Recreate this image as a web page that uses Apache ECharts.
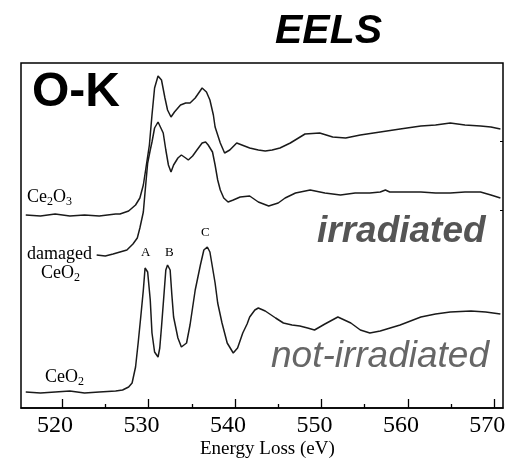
<!DOCTYPE html>
<html>
<head>
<meta charset="utf-8">
<script src="https://cdn.jsdelivr.net/npm/echarts@6/dist/echarts.min.js"></script>
<style>
  html, body { margin: 0; padding: 0; background: #fff; }
  #chart { width: 519px; height: 461px; }
</style>
</head>
<body>
<div id="chart"></div>
<script>
// energy loss (eV) and intensity (arbitrary, offset per spectrum)
var ce2o3E = [515.8, 517.5, 519.2, 520.9, 522.6, 524.3, 526.2, 526.7, 527.7, 528.5, 529.0, 529.4, 529.7, 530.1, 530.4, 530.7, 531.1, 531.3, 531.5, 531.9, 532.2, 532.6, 533.0, 533.7, 534.3, 534.8, 535.4, 536.2, 536.7, 537.1, 537.5, 537.7, 538.3, 538.8, 539.4, 540.2, 541.1, 541.7, 542.7, 543.5, 544.3, 545.2, 546.4, 548.1, 549.8, 551.3, 552.8, 554.5, 556.8, 559.1, 561.5, 563.2, 564.9, 566.6, 568.4, 569.6, 570.7]
var ce2o3I = [193, 192, 194, 192, 193, 192, 194, 194, 197, 203, 210, 223, 240, 263, 293, 320, 332, 333, 328, 310, 298, 291, 296, 303, 305, 305, 310, 320, 316, 308, 293, 281, 265, 255, 258, 265, 262, 260, 258, 257, 258, 260, 265, 274, 275, 271, 270, 273, 276, 279, 282, 283, 285, 283, 282, 281, 279]

var damagedE = [524.0, 525.0, 525.9, 526.7, 527.5, 528.2, 528.7, 529.0, 529.4, 529.6, 529.9, 530.2, 530.4, 530.7, 531.1, 531.3, 531.7, 532.0, 532.3, 532.6, 532.9, 533.4, 533.8, 534.3, 534.6, 535.1, 535.6, 536.2, 536.6, 536.9, 537.4, 537.7, 538.0, 538.3, 538.7, 539.2, 539.8, 540.6, 541.7, 542.7, 543.9, 545.0, 545.8, 547.0, 548.7, 550.4, 552.2, 553.9, 555.6, 556.8, 557.4, 557.9, 559.7, 561.5, 563.2, 564.9, 566.6, 568.4, 569.6, 570.7]
var damagedI = [153, 152, 154, 156, 158, 164, 170, 180, 196, 216, 245, 258, 266, 280, 286, 285, 275, 258, 243, 236, 243, 250, 253, 250, 248, 252, 258, 265, 266, 263, 256, 243, 228, 218, 210, 206, 208, 211, 212, 206, 202, 205, 210, 215, 218, 215, 213, 215, 215, 216, 218, 216, 216, 216, 215, 215, 216, 216, 213, 210]

var ceo2E = [515.8, 517.5, 519.2, 520.9, 522.6, 524.3, 526.2, 527.0, 527.7, 528.1, 528.5, 528.8, 529.1, 529.4, 529.6, 529.7, 529.9, 530.2, 530.4, 530.7, 531.1, 531.3, 531.5, 531.8, 532.0, 532.2, 532.5, 532.7, 532.9, 533.4, 533.8, 534.4, 534.8, 535.4, 536.0, 536.4, 536.8, 537.1, 537.7, 538.0, 538.5, 539.1, 539.8, 540.3, 540.9, 541.4, 541.7, 542.3, 542.7, 543.5, 544.7, 545.6, 546.6, 547.5, 548.4, 549.2, 550.4, 551.9, 553.4, 554.5, 555.6, 556.8, 559.1, 561.5, 563.2, 564.9, 567.3, 569.0, 570.7]
var ceo2I = [16, 15, 16, 17, 15, 16, 17, 18, 21, 25, 41, 65, 91, 118, 140, 142, 136, 108, 75, 56, 51, 60, 81, 115, 138, 143, 138, 113, 91, 70, 61, 65, 83, 118, 143, 158, 161, 156, 125, 105, 85, 65, 55, 60, 75, 84, 91, 98, 100, 97, 90, 85, 83, 82, 80, 78, 84, 91, 85, 78, 75, 77, 83, 91, 94, 96, 97, 96, 94]

var majorTicks = [520, 530, 540, 550, 560, 570]
var minorTicks = [525, 535, 545, 555, 565]

function pairs(xs, ys) {
  return xs.map(function(x, i) { return [x, ys[i]] })
}

var serif = '"Liberation Serif", "Times New Roman", serif'
var sans = '"Liberation Sans", Arial, sans-serif'

var chart = echarts.init(document.getElementById('chart'))

var lineStyle = { color: '#1a1a1a', width: 1.5 }
var sub = { s: { fontSize: 12, fontFamily: serif, padding: [9, 0, 0, 0] } }

chart.setOption({
  animation: false,
  grid: {
    show: true,
    left: 21,
    right: 16,
    top: 63,
    bottom: 53,
    borderColor: '#000',
    borderWidth: 1.5
  },
  xAxis: [
    {
      type: 'value',
      min: 515.25,
      max: 571.0,
      position: 'bottom',
      axisLine: { show: true, lineStyle: { color: '#000', width: 1.5 } },
      axisTick: { show: true, inside: true, length: 9, customValues: majorTicks, lineStyle: { color: '#000', width: 1.3 } },
      axisLabel: { customValues: majorTicks, fontFamily: serif, fontSize: 24, color: '#000', margin: 6, padding: [0, 14, 0, 0] },
      splitLine: { show: false }
    },
    {
      type: 'value',
      min: 515.25,
      max: 571.0,
      position: 'bottom',
      axisLine: { show: false },
      axisTick: { show: true, inside: true, length: 4, customValues: minorTicks, lineStyle: { color: '#000', width: 1.3 } },
      axisLabel: { show: false },
      splitLine: { show: false }
    }
  ],
  yAxis: [
    {
      type: 'value',
      min: 0,
      max: 345,
      show: false
    },
    {
      type: 'value',
      min: 0,
      max: 345,
      position: 'right',
      axisLine: { show: false },
      axisTick: { show: true, inside: true, length: 3, customValues: [198, 267], lineStyle: { color: '#000' } },
      axisLabel: { show: false },
      splitLine: { show: false }
    }
  ],
  series: [
    {
      name: 'Ce2O3',
      type: 'line',
      symbol: 'none',
      lineStyle: lineStyle,
      data: pairs(ce2o3E, ce2o3I)
    },
    {
      name: 'damaged CeO2',
      type: 'line',
      symbol: 'none',
      lineStyle: lineStyle,
      data: pairs(damagedE, damagedI)
    },
    {
      name: 'CeO2',
      type: 'line',
      symbol: 'none',
      lineStyle: lineStyle,
      data: pairs(ceo2E, ceo2I)
    }
  ],
  graphic: [
    { type: 'text', left: 275, top: 11, style: { text: 'EELS', font: 'italic bold 41px ' + sans, fill: '#000' } },
    { type: 'text', left: 32, top: 69, style: { text: 'O-K', font: 'bold 48px ' + sans, fill: '#000' } },
    { type: 'text', left: 317, top: 213, style: { text: 'irradiated', font: 'italic bold 37px ' + sans, fill: '#555' } },
    { type: 'text', left: 271, top: 338, style: { text: 'not-irradiated', font: 'italic 37px ' + sans, fill: '#666' } },
    { type: 'text', left: 27, top: 188, style: { text: 'Ce{s|2}O{s|3}', font: '18px ' + serif, fill: '#000', rich: sub } },
    { type: 'text', left: 27, top: 245, style: { text: 'damaged', font: '18px ' + serif, fill: '#000' } },
    { type: 'text', left: 41, top: 264, style: { text: 'CeO{s|2}', font: '18px ' + serif, fill: '#000', rich: sub } },
    { type: 'text', left: 45, top: 368, style: { text: 'CeO{s|2}', font: '18px ' + serif, fill: '#000', rich: sub } },
    { type: 'text', left: 141, top: 246, style: { text: 'A', font: '13px ' + serif, fill: '#000' } },
    { type: 'text', left: 165, top: 246, style: { text: 'B', font: '13px ' + serif, fill: '#000' } },
    { type: 'text', left: 201, top: 226, style: { text: 'C', font: '13px ' + serif, fill: '#000' } },
    { type: 'text', left: 200, top: 440, style: { text: 'Energy Loss (eV)', font: '19px ' + serif, fill: '#000' } }
  ]
})
</script>
</body>
</html>
